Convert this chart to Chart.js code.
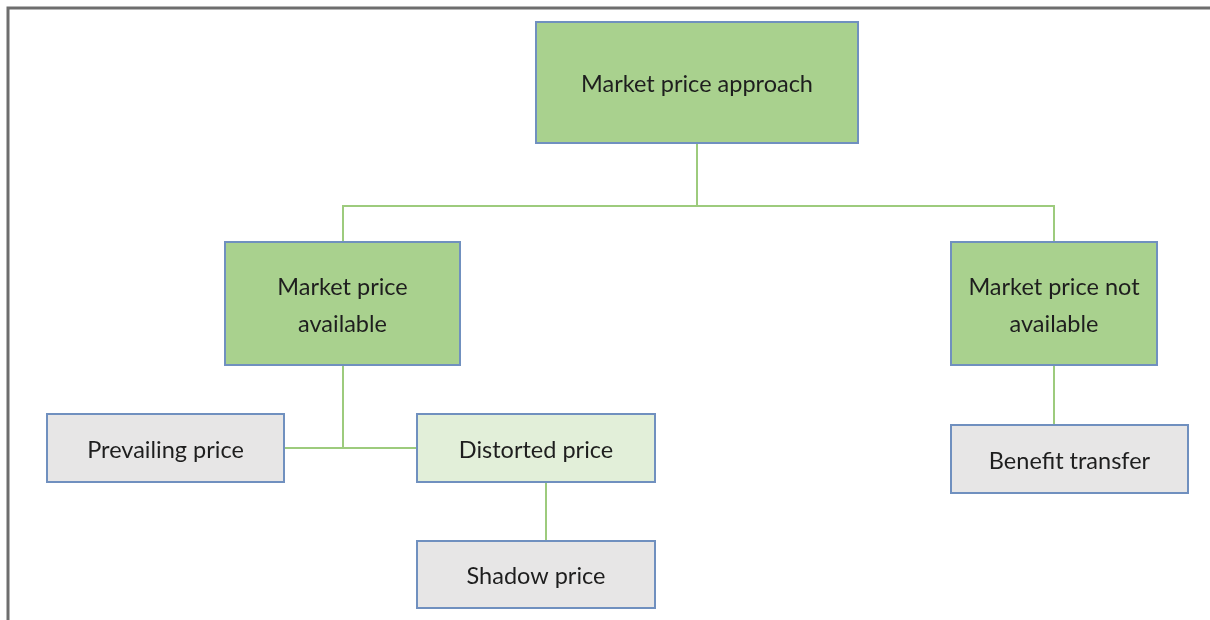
<!DOCTYPE html>
<html><head><meta charset="utf-8">
<script src="https://cdn.jsdelivr.net/npm/chart.js@4/dist/chart.umd.min.js"></script>
<style>html,body{margin:0;padding:0;background:#fff;overflow:hidden}</style>
</head><body>
<canvas id="c" width="1210" height="620"></canvas>
<script>
// Diagram content
const nodeLabels = [["Market price approach"],["Market price","available"],["Market price not","available"],["Prevailing price"],["Distorted price"],["Shadow price"],["Benefit transfer"]];
const nodeKind = ["main","main","main","leaf","sub","leaf","leaf"];
// Layout in diagram units
const nodeLeft = [536,225,951,47,417,417,951];
const nodeTop = [22,242,242,414,414,541,425];
const nodeRight = [858,460,1157,284,655,655,1188];
const nodeBottom = [143,365,365,482,482,608,493];
const connectors = [
  [[697,143],[697,206]],
  [[343,242],[343,206],[1054,206],[1054,242]],
  [[343,365],[343,448]],
  [[284,448],[417,448]],
  [[546,482],[546,541]],
  [[1054,365],[1054,425]]
];
const frame = [[8,620],[8,8],[1210,8]];

const fills = {main:"#a9d18e", sub:"#e2efd9", leaf:"#e7e6e6"};
const FONT = "Lato, 'Open Sans', sans-serif";

const datasets = connectors.map(pts => ({
  data: pts.map(p => ({x:p[0], y:p[1]})),
  showLine: true, borderColor: "#9dcb7d", borderWidth: 2,
  pointRadius: 0, fill: false, tension: 0
}));
datasets.push({
  data: frame.map(p => ({x:p[0], y:p[1]})),
  showLine: true, borderColor: "#6e6e6e", borderWidth: 3,
  pointRadius: 0, fill: false, tension: 0
});

const boxPlugin = {
  id: "boxes",
  afterDatasetsDraw(chart) {
    const {ctx, scales:{x, y}} = chart;
    ctx.save();
    nodeLabels.forEach((lines, i) => {
      const l = x.getPixelForValue(nodeLeft[i]), r = x.getPixelForValue(nodeRight[i]);
      const t = y.getPixelForValue(nodeTop[i]), b = y.getPixelForValue(nodeBottom[i]);
      ctx.fillStyle = fills[nodeKind[i]];
      ctx.fillRect(l, t, r - l, b - t);
      ctx.strokeStyle = "#7090bf";
      ctx.lineWidth = 2;
      ctx.strokeRect(l, t, r - l, b - t);
      ctx.fillStyle = "#1e1e1e";
      ctx.font = "23.5px " + FONT;
      ctx.textAlign = "center";
      ctx.textBaseline = "middle";
      const cx = (l + r) / 2, cy = (t + b) / 2 + 2;
      const lh = 37;
      lines.forEach((s, k) => {
        ctx.fillText(s, cx, cy + (k - (lines.length - 1) / 2) * lh);
      });
    });
    ctx.restore();
  }
};

new Chart(document.getElementById("c"), {
  type: "scatter",
  data: { datasets },
  options: {
    responsive: false, animation: false, devicePixelRatio: 1,
    layout: { padding: 0 },
    plugins: { legend: {display:false}, tooltip: {enabled:false} },
    scales: {
      x: { type:"linear", min:0, max:1210, display:false },
      y: { type:"linear", min:0, max:620, reverse:true, display:false }
    }
  },
  plugins: [boxPlugin]
});
</script>
</body></html>
